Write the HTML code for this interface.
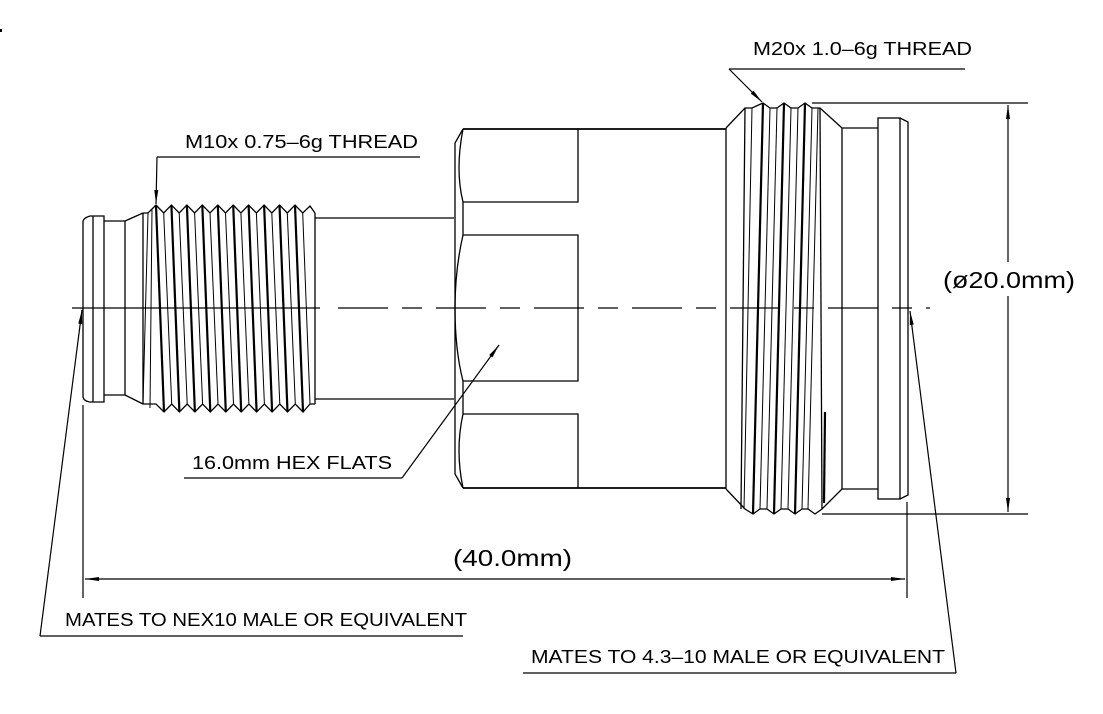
<!DOCTYPE html>
<html><head><meta charset="utf-8"><style>
html,body{margin:0;padding:0;background:#fff;}
svg{display:block;}
text{font-family:"Liberation Sans",sans-serif;fill:#000;}
</style></head><body>
<svg width="1103" height="714" viewBox="0 0 1103 714" xmlns="http://www.w3.org/2000/svg">
<defs>
<marker id="ar" markerWidth="14" markerHeight="6" refX="14" refY="3" orient="auto" markerUnits="userSpaceOnUse">
<path d="M0,1 L14,3 L0,5 Z" fill="#000"/></marker>
</defs>
<rect x="0" y="29" width="2" height="3" fill="#000"/>
<g fill="none" stroke="#000" stroke-width="1.3">
<path d="M104,216 L90,216 Q83,218 83,222 L83,396 Q83,401 90,402 L104,402 Z"/>
<line x1="93" y1="216" x2="93" y2="402"/>
<path d="M104,221 L125,221 L125,395 L104,395"/>
<path d="M125,221 L143,213 M125,395 L143,404"/>
<polyline points="143,213 148,213 156,205 163.7,213 171.4,205 179.2,213 186.9,205 194.6,213 202.3,205 210,213 217.8,205 225.5,213 233.2,205 240.9,213 248.6,205 256.4,213 264.1,205 271.8,213 279.5,205 287.3,213 295,205 302.7,213 310,206 315,213"/>
<polyline points="143,404 156,404 164,412 171.7,404 179.4,412 187.2,404 194.9,412 202.6,404 210.3,412 218,404 225.8,412 233.5,404 241.2,412 248.9,404 256.6,412 264.4,404 272.1,412 279.8,404 287.5,412 295.3,404 303,412 310,404 315,404"/>
<line x1="143" y1="213" x2="143" y2="404"/>
<line x1="315" y1="213" x2="315" y2="404"/>
</g>
<g stroke="#000" stroke-width="2.2">
<line x1="156" y1="205" x2="164" y2="412"/><line x1="171.4" y1="205" x2="179.4" y2="412"/>
<line x1="186.9" y1="205" x2="194.9" y2="412"/><line x1="202.3" y1="205" x2="210.3" y2="412"/>
<line x1="217.8" y1="205" x2="225.8" y2="412"/><line x1="233.2" y1="205" x2="241.2" y2="412"/>
<line x1="248.6" y1="205" x2="256.6" y2="412"/><line x1="264.1" y1="205" x2="272.1" y2="412"/>
<line x1="279.5" y1="205" x2="287.5" y2="412"/><line x1="295" y1="205" x2="303" y2="412"/>
</g>
<g stroke="#000" stroke-width="1">
<line x1="148" y1="213" x2="143" y2="404"/>
<line x1="163.7" y1="213" x2="171.7" y2="404"/><line x1="179.2" y1="213" x2="187.2" y2="404"/>
<line x1="194.6" y1="213" x2="202.6" y2="404"/><line x1="210" y1="213" x2="218" y2="404"/>
<line x1="225.5" y1="213" x2="233.5" y2="404"/><line x1="240.9" y1="213" x2="248.9" y2="404"/>
<line x1="256.4" y1="213" x2="264.4" y2="404"/><line x1="271.8" y1="213" x2="279.8" y2="404"/>
<line x1="287.3" y1="213" x2="295.3" y2="404"/><line x1="302.7" y1="213" x2="310" y2="404"/>
<line x1="152" y1="209" x2="150" y2="408"/>
</g>
<g fill="none" stroke="#000" stroke-width="1.3">
<line x1="315" y1="218" x2="454" y2="218"/>
<line x1="315" y1="399" x2="454" y2="399"/>
<path d="M463,129 L455,143 L455,474 L463,488"/>
<path d="M463,129 Q455,170 463,202 L463,235 Q455,270 455,308 Q455,350 463,381 L463,414 Q455,450 463,488"/>
<line x1="463" y1="129" x2="726" y2="129" stroke-width="1.8"/>
<line x1="463" y1="488" x2="726" y2="488" stroke-width="1.8"/>
<path d="M463,202 L578,202 L578,129"/>
<path d="M463,235 L578,235 L578,381 L463,381"/>
<path d="M463,414 L578,414 L578,488"/>
<line x1="726" y1="128" x2="726" y2="489"/>
<polyline points="726,128 745,108 752,108 763,103 770,108 777,108 784,103 791,108 798,108 805,103 812,108 820,108 842,128"/>
<polyline points="726,489 745,509 753,514 760,509 767,509 774,514 781,509 788,509 795,514 802,509 808,509 815,514 822,509 842,489"/>
<line x1="745" y1="108" x2="741" y2="509"/>
<line x1="820" y1="108" x2="822" y2="509"/>
<path d="M842,128 L878,128 M842,489 L878,489 L842,489 L842,128"/>
<rect x="878" y="118" width="22" height="381"/>
<path d="M900,118 L908,122 L908,495 L900,499"/>
</g>
<g stroke="#000" stroke-width="2.2">
<line x1="763" y1="103" x2="753" y2="514"/>
<line x1="784" y1="103" x2="774" y2="514"/>
<line x1="805" y1="103" x2="795" y2="514"/>
<line x1="825" y1="412" x2="824" y2="503"/>
</g>
<g stroke="#000" stroke-width="1">
<line x1="752" y1="108" x2="744" y2="509"/>
<line x1="770" y1="108" x2="760" y2="509"/>
<line x1="777" y1="108" x2="767" y2="509"/>
<line x1="791" y1="108" x2="781" y2="509"/>
<line x1="798" y1="108" x2="788" y2="509"/>
<line x1="812" y1="108" x2="802" y2="509"/>
<line x1="818" y1="108" x2="808" y2="509"/>
</g>
<g stroke="#000" stroke-width="1.2">
<line x1="72" y1="308" x2="320" y2="308"/>
<line x1="338" y1="308" x2="930" y2="308" stroke-dasharray="50,14,20,14"/>
</g>
<g stroke="#000" stroke-width="1.2" fill="none">
<line x1="812" y1="103" x2="1028" y2="103"/>
<line x1="822" y1="514" x2="1028" y2="514"/>
<line x1="1008" y1="262" x2="1008" y2="105" marker-end="url(#ar)"/>
<line x1="1008" y1="296" x2="1008" y2="512" marker-end="url(#ar)"/>
<line x1="83" y1="405" x2="83" y2="598"/>
<line x1="907" y1="502" x2="907" y2="598"/>
<line x1="500" y1="579" x2="85" y2="579" marker-end="url(#ar)"/>
<line x1="500" y1="579" x2="905" y2="579" marker-end="url(#ar)"/>
<path d="M157,157 L420,157"/>
<line x1="157" y1="157" x2="156" y2="204" marker-end="url(#ar)"/>
<path d="M729,69 L965,69"/>
<line x1="729" y1="69" x2="762" y2="102" marker-end="url(#ar)"/>
<path d="M184,478 L402,478"/>
<line x1="402" y1="478" x2="499" y2="345" marker-end="url(#ar)"/>
<path d="M463,636 L40,636"/>
<line x1="40" y1="636" x2="82" y2="310" marker-end="url(#ar)"/>
<path d="M523,673 L956,673"/>
<line x1="956" y1="673" x2="910" y2="311" marker-end="url(#ar)"/>
</g>
<g font-size="18">
<text x="185" y="148" textLength="233" lengthAdjust="spacingAndGlyphs">M10x 0.75–6g THREAD</text>
<text x="753" y="55" textLength="219" lengthAdjust="spacingAndGlyphs">M20x 1.0–6g THREAD</text>
<text x="192" y="469" textLength="200" lengthAdjust="spacingAndGlyphs">16.0mm HEX FLATS</text>
<text x="65" y="626" textLength="402" lengthAdjust="spacingAndGlyphs">MATES TO NEX10 MALE OR EQUIVALENT</text>
<text x="531" y="663" textLength="414" lengthAdjust="spacingAndGlyphs">MATES TO 4.3–10 MALE OR EQUIVALENT</text>
</g>
<g font-size="23">
<text x="453" y="566" textLength="119" lengthAdjust="spacingAndGlyphs">(40.0mm)</text>
<text x="943" y="288" textLength="132" lengthAdjust="spacingAndGlyphs">(ø20.0mm)</text>
</g>
</svg>
</body></html>
